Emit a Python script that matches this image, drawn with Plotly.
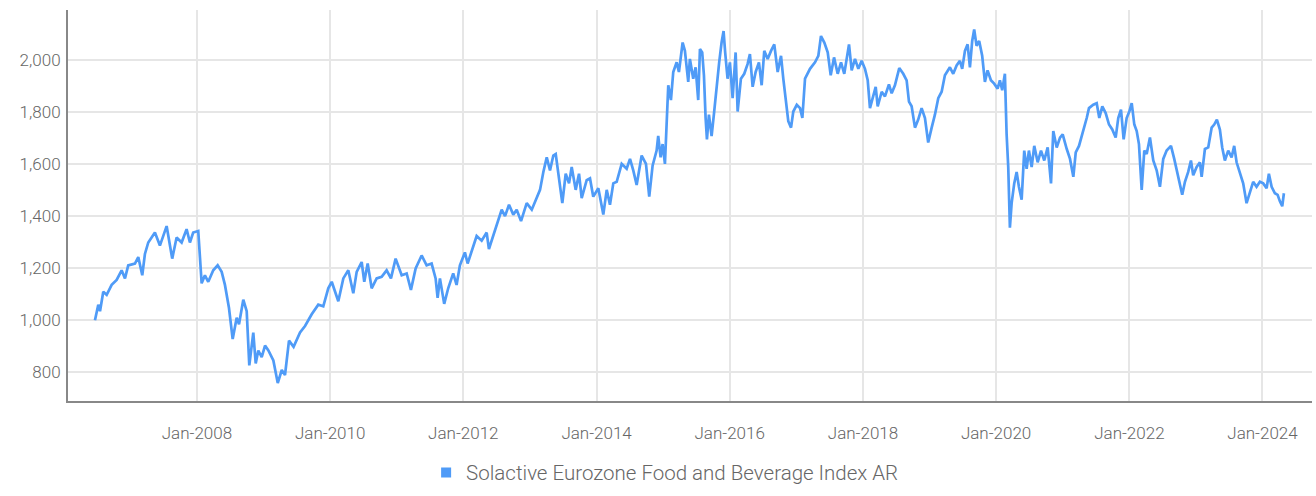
import datetime as dt
import plotly.graph_objects as go

# decimal-year time stamps and index levels
years = [
    2006.468, 2006.518, 2006.544, 2006.593, 2006.644, 2006.719, 2006.794, 2006.869, 2006.919, 2006.968,
    2007.069, 2007.119, 2007.179, 2007.219, 2007.269, 2007.369, 2007.444, 2007.545, 2007.629, 2007.695,
    2007.770, 2007.845, 2007.895, 2007.944, 2008.020, 2008.045, 2008.071, 2008.120, 2008.170, 2008.245,
    2008.311, 2008.371, 2008.420, 2008.480, 2008.536, 2008.596, 2008.631, 2008.695, 2008.746, 2008.785,
    2008.821, 2008.845, 2008.881, 2008.920, 2008.971, 2009.021, 2009.071, 2009.146, 2009.212, 2009.272,
    2009.321, 2009.381, 2009.450, 2009.547, 2009.622, 2009.722, 2009.821, 2009.896, 2009.971, 2010.023,
    2010.122, 2010.197, 2010.272, 2010.347, 2010.398, 2010.473, 2010.512, 2010.563, 2010.623, 2010.698,
    2010.773, 2010.848, 2010.913, 2010.983, 2011.074, 2011.149, 2011.213, 2011.284, 2011.374, 2011.449,
    2011.524, 2011.584, 2011.614, 2011.649, 2011.713, 2011.773, 2011.848, 2011.899, 2011.949, 2012.024,
    2012.065, 2012.125, 2012.200, 2012.275, 2012.350, 2012.384, 2012.500, 2012.575, 2012.625, 2012.685,
    2012.749, 2012.800, 2012.865, 2012.950, 2013.026, 2013.101, 2013.150, 2013.200, 2013.251, 2013.300,
    2013.350, 2013.386, 2013.435, 2013.485, 2013.536, 2013.586, 2013.626, 2013.686, 2013.736, 2013.776,
    2013.851, 2013.901, 2013.950, 2014.026, 2014.101, 2014.152, 2014.201, 2014.251, 2014.302, 2014.377,
    2014.452, 2014.502, 2014.551, 2014.602, 2014.677, 2014.742, 2014.791, 2014.842, 2014.902, 2014.926,
    2014.962, 2014.992, 2015.027, 2015.053, 2015.077, 2015.117, 2015.152, 2015.203, 2015.237, 2015.293,
    2015.327, 2015.377, 2015.402, 2015.452, 2015.488, 2015.527, 2015.553, 2015.587, 2015.613, 2015.638,
    2015.658, 2015.688, 2015.728, 2015.767, 2015.803, 2015.842, 2015.878, 2015.908, 2015.932, 2015.968,
    2016.003, 2016.044, 2016.089, 2016.119, 2016.168, 2016.218, 2016.269, 2016.303, 2016.344, 2016.389,
    2016.438, 2016.479, 2016.518, 2016.569, 2016.619, 2016.668, 2016.719, 2016.769, 2016.803, 2016.839,
    2016.878, 2016.919, 2016.953, 2017.005, 2017.054, 2017.089, 2017.129, 2017.204, 2017.279, 2017.329,
    2017.369, 2017.419, 2017.470, 2017.515, 2017.565, 2017.620, 2017.670, 2017.719, 2017.790, 2017.830,
    2017.880, 2017.930, 2017.980, 2018.030, 2018.071, 2018.105, 2018.155, 2018.191, 2018.221, 2018.281,
    2018.330, 2018.390, 2018.431, 2018.480, 2018.545, 2018.605, 2018.656, 2018.691, 2018.731, 2018.781,
    2018.830, 2018.881, 2018.931, 2018.980, 2019.032, 2019.081, 2019.131, 2019.182, 2019.231, 2019.306,
    2019.356, 2019.407, 2019.456, 2019.491, 2019.532, 2019.572, 2019.607, 2019.641, 2019.671, 2019.707,
    2019.746, 2019.791, 2019.832, 2019.872, 2019.922, 2019.971, 2020.023, 2020.057, 2020.092, 2020.132,
    2020.158, 2020.182, 2020.207, 2020.233, 2020.272, 2020.308, 2020.342, 2020.383, 2020.422, 2020.458,
    2020.492, 2020.533, 2020.572, 2020.623, 2020.673, 2020.722, 2020.773, 2020.823, 2020.857, 2020.908,
    2020.958, 2020.998, 2021.059, 2021.108, 2021.158, 2021.194, 2021.243, 2021.308, 2021.359, 2021.393,
    2021.458, 2021.509, 2021.548, 2021.593, 2021.644, 2021.694, 2021.743, 2021.794, 2021.833, 2021.874,
    2021.914, 2021.959, 2021.999, 2022.035, 2022.074, 2022.110, 2022.144, 2022.185, 2022.224, 2022.260,
    2022.309, 2022.359, 2022.410, 2022.459, 2022.509, 2022.560, 2022.625, 2022.674, 2022.710, 2022.760,
    2022.794, 2022.835, 2022.884, 2022.925, 2022.959, 2023.011, 2023.060, 2023.086, 2023.135, 2023.185,
    2023.236, 2023.275, 2023.315, 2023.360, 2023.395, 2023.435, 2023.485, 2023.536, 2023.575, 2023.611,
    2023.661, 2023.710, 2023.761, 2023.811, 2023.860, 2023.911, 2023.961, 2024.011, 2024.062, 2024.096,
    2024.137, 2024.186, 2024.227, 2024.261, 2024.296, 2024.321,
]

index_values = [
    1000, 1060, 1035, 1110, 1098, 1136, 1155, 1192, 1161, 1211,
    1218, 1243, 1173, 1255, 1299, 1337, 1287, 1362, 1237, 1318,
    1299, 1350, 1299, 1337, 1343, 1261, 1142, 1173, 1148, 1192,
    1211, 1186, 1136, 1048, 928, 1010, 985, 1079, 1035, 827,
    909, 953, 834, 884, 859, 903, 884, 846, 759, 809,
    790, 922, 898, 953, 978, 1023, 1060, 1054, 1123, 1148,
    1073, 1161, 1192, 1104, 1186, 1224, 1148, 1218, 1123, 1161,
    1167, 1192, 1161, 1237, 1173, 1180, 1117, 1199, 1249, 1211,
    1218, 1161, 1086, 1161, 1063, 1123, 1180, 1136, 1211, 1261,
    1218, 1268, 1324, 1306, 1337, 1274, 1369, 1425, 1400, 1444,
    1406, 1425, 1381, 1450, 1425, 1475, 1501, 1570, 1626, 1576,
    1633, 1639, 1538, 1450, 1563, 1526, 1589, 1501, 1563, 1469,
    1538, 1545, 1475, 1507, 1406, 1501, 1444, 1526, 1532, 1601,
    1582, 1620, 1576, 1520, 1633, 1601, 1475, 1595, 1652, 1708,
    1626, 1677, 1601, 1777, 1903, 1846, 1954, 1991, 1954, 2067,
    2035, 1916, 2004, 1928, 1972, 1846, 2042, 2029, 1941, 1777,
    1695, 1790, 1708, 1802, 1903, 1991, 2067, 2111, 2029, 1928,
    1991, 1853, 2029, 1802, 1928, 1947, 1985, 2023, 1897, 1954,
    1991, 1903, 2035, 2004, 2035, 2060, 1954, 2016, 1928, 1853,
    1765, 1740, 1802, 1828, 1815, 1777, 1928, 1966, 1991, 2016,
    2092, 2067, 2029, 1941, 2010, 1947, 1991, 1947, 2060, 1960,
    2004, 1966, 1997, 1966, 1922, 1815, 1865, 1897, 1822, 1878,
    1860, 1906, 1872, 1903, 1969, 1947, 1922, 1840, 1822, 1740,
    1771, 1815, 1777, 1683, 1740, 1790, 1853, 1878, 1941, 1972,
    1947, 1979, 1997, 1966, 2035, 2060, 1972, 2073, 2117, 2054,
    2073, 2016, 1916, 1960, 1922, 1909, 1890, 1922, 1884, 1947,
    1714, 1589, 1356, 1450, 1526, 1570, 1513, 1463, 1652, 1582,
    1652, 1589, 1670, 1607, 1652, 1614, 1664, 1526, 1727, 1664,
    1702, 1714, 1658, 1620, 1551, 1645, 1670, 1727, 1777, 1815,
    1828, 1834, 1777, 1822, 1796, 1752, 1733, 1702, 1777, 1809,
    1695, 1777, 1802, 1834, 1752, 1727, 1677, 1501, 1652, 1639,
    1702, 1614, 1576, 1513, 1620, 1652, 1670, 1620, 1576, 1513,
    1482, 1532, 1570, 1614, 1557, 1589, 1607, 1551, 1658, 1664,
    1740, 1752, 1771, 1733, 1664, 1614, 1652, 1626, 1670, 1607,
    1570, 1526, 1450, 1488, 1532, 1513, 1532, 1526, 1507, 1563,
    1513, 1488, 1482, 1457, 1438, 1488,
]

series_name = "Solactive Eurozone Food and Beverage Index AR"
tick_values = [800, 1000, 1200, 1400, 1600, 1800, 2000]


def to_date(y):
    base = dt.datetime(int(y), 1, 1)
    nxt = dt.datetime(int(y) + 1, 1, 1)
    return base + (nxt - base) * (y - int(y))


dates = [to_date(y) for y in years]

LINE = "#4f9bf7"
FONT = "Roboto, sans-serif"

fig = go.Figure()
fig.add_trace(go.Scatter(
    x=dates, y=index_values, mode="lines",
    line=dict(color=LINE, width=2.7),
    name=series_name, showlegend=False,
))
fig.add_trace(go.Scatter(
    x=[None], y=[None], mode="markers",
    marker=dict(symbol="square", color=LINE, size=10),
    name=series_name, showlegend=True,
))

fig.update_layout(
    width=1316, height=496,
    margin=dict(l=68, r=4, t=10, b=88),
    paper_bgcolor="white", plot_bgcolor="white",
    font=dict(family=FONT, size=17, color="#666666", weight=300),
    legend=dict(orientation="h", x=0.48, xanchor="center", y=-0.183, yanchor="middle",
                font=dict(family=FONT, size=20.5, color="#666666", weight=300),
                itemwidth=30),
)
fig.update_xaxes(
    type="date", automargin=False,
    range=[to_date(2006.063), to_date(2024.742)],
    tick0="2008-01-01", dtick="M24", tickformat="%b-%Y",
    showgrid=True, gridcolor="#e6e6e6", gridwidth=2,
    showline=True, linecolor="#888888", linewidth=2,
    ticks="", ticklabelstandoff=16,
    zeroline=False,
)
fig.update_yaxes(
    range=[690, 2192], automargin=False,
    tickvals=tick_values, tickformat=",",
    showgrid=True, gridcolor="#e6e6e6", gridwidth=2,
    showline=True, linecolor="#888888", linewidth=2,
    ticks="", ticklabelstandoff=2,
    zeroline=False,
)

page_fix = (
    "document.documentElement.style.overflow='hidden';"
    "document.body.style.margin='0px';"
    "document.body.style.overflow='hidden';"
    "var gd=document.querySelector('.plotly-graph-div');"
    "gd.style.position='fixed';gd.style.top='0px';gd.style.left='0px';"
)

fig.write_html("out.html", config={"displayModeBar": False}, post_script=page_fix)
